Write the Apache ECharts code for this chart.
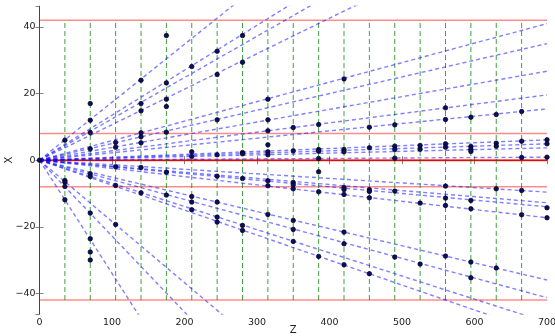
<!DOCTYPE html>
<html>
<head>
<meta charset="utf-8">
<script src="https://cdn.jsdelivr.net/npm/echarts@6/dist/echarts.min.js"></script>
<style>
html,body{margin:0;padding:0;background:#fff;}
#chart{width:555px;height:336px;}
</style>
</head>
<body>
<div id="chart"></div>
<script>
// Detector planes (Z positions of green dashed lines)
const planeZ = [35,70,105,140,175,210,245,280,315,350,385,420,455,490,525,560,595,630,665];
// Red horizontal boundaries (X)
const redLevels = [42, 8, 0, -8, -42];
// Straight tracks from origin, described by X value at Z = 700
const trackEndX = [121.8, 94.5, 86.8, 74.6, 41, 35, 26.7, 19.6, 15.4, 6.1, 4.9, 3.7, 0.9,
                   -9.6, -12.8, -14.0, -17.3, -36, -41.3, -48.7, -52.5, -128.8, -159.6, -238];
const trackEndZ = 700;
// Hits [Z, X]
const hits = [
  [0,0],
  [35,6],[35,-6.1],[35,-6.6],[35,-7.9],[35,-11.9],
  [70,17],[70,12],[70,8.3],[70,3.4],[70,-4.1],[70,-4.9],[70,-15.9],[70,-23.6],[70,-27.6],[70,-30],
  [105,5.3],[105,3.9],[105,-2.0],[105,-7.6],[105,-19.3],
  [140,24],[140,17],[140,14.8],[140,8.2],[140,7],[140,5.2],[140,-2.2],[140,-9.8],
  [175,37.4],[175,23.2],[175,18.3],[175,16.1],[175,8.4],[175,-3.6],[175,-10.5],
  [210,28.1],[210,2.5],[210,1.1],[210,-10.9],[210,-12.6],[210,-14.9],
  [245,32.7],[245,25.7],[245,12.1],[245,1.6],[245,-4.8],[245,-12.6],[245,-17.1],[245,-18.6],
  [280,37.4],[280,29.4],[280,2.3],[280,1.9],[280,-5.5],[280,-19.6],[280,-21.1],
  [315,18.3],[315,12.1],[315,8.8],[315,4.6],[315,2.5],[315,1.6],[315,-6.2],[315,-7.7],[315,-16.3],
  [350,9.8],[350,2.8],[350,-6.7],[350,-7.4],[350,-8.6],[350,-18.1],[350,-20.8],[350,-24.4],
  [385,10.7],[385,3.2],[385,2.7],[385,0.5],[385,-3.5],[385,-9.5],[385,-28.9],
  [420,24.4],[420,3.2],[420,2.5],[420,-8.2],[420,-8.8],[420,-10.3],[420,-21.6],[420,-25.1],[420,-31.4],
  [455,9.9],[455,3.7],[455,-8.9],[455,-9.4],[455,-11.3],[455,-34.1],
  [490,10.6],[490,4.2],[490,3.2],[490,0.6],[490,-9.3],[490,-29.1],
  [525,4.4],[525,3.3],[525,-12.9],[525,-31.2],
  [560,15.7],[560,12.2],[560,4.9],[560,3.9],[560,-7.8],[560,-11.4],[560,-13.6],[560,-28.8],
  [595,12.9],[595,4.1],[595,3.3],[595,2.6],[595,-12.1],[595,-14.6],[595,-30.6],[595,-35.3],
  [630,13.7],[630,5.1],[630,4.2],[630,-8.6],[630,-32.4],
  [665,14.6],[665,5.7],[665,0.8],[665,-9.1],[665,-16.4],
  [700,6.1],[700,4.9],[700,0.9],[700,-14.3],[700,-17.3]
];
const zRange = [0, 700];
const xRange = [-46.2, 46.2];

const fmtNum = v => (v < 0 ? '\u2212' + Math.abs(v) : String(v));
const labelStyle = {color:'#222', fontSize:9.5, fontFamily:'DejaVu Sans'};
const axisLine = {show:true, lineStyle:{color:'#444', width:1}};
const tickIn = {show:true, inside:true, length:4, lineStyle:{color:'#666', width:0.8}};

const series = [];
// red boundaries
redLevels.forEach(lv => {
  series.push({
    type:'line', data:[[zRange[0], lv],[zRange[1], lv]], symbol:'none', silent:true,
    lineStyle: lv === 0 ? {color:'rgba(255,0,0,0.8)', width:2} : {color:'rgba(255,0,0,0.45)', width:1.6},
    z:1
  });
});
// green planes
const planeTop = redLevels[0], planeBottom = redLevels[redLevels.length-1];
planeZ.forEach(pz => {
  series.push({
    type:'line', data:[[pz, planeBottom],[pz, planeTop]], symbol:'none', silent:true,
    lineStyle:{color:'rgba(0,128,0,0.75)', width:1, type:[5,3]}, z:2
  });
});
// tracks
trackEndX.forEach(ex => {
  series.push({
    type:'line', data:[[0,0],[trackEndZ, ex]], symbol:'none', silent:true, clip:true,
    lineStyle:{color:'rgba(0,0,255,0.5)', width:1.4, type:[4,3]}, z:3
  });
});
// hits
series.push({
  type:'scatter', data:hits, symbol:'circle', symbolSize:4.5,
  itemStyle:{color:'#0b0b70', borderColor:'#000', borderWidth:0.7, opacity:1}, z:5
});

const chart = echarts.init(document.getElementById('chart'), null, {renderer:'canvas'});
chart.setOption({
  animation:false,
  backgroundColor:'#fff',
  grid:{left:39.5, right:8, top:6.3, bottom:22, containLabel:false, outerBoundsMode:'none'},
  xAxis:[{
    type:'value', min:zRange[0], max:zRange[1], interval:100, position:'bottom',
    name:'Z', nameLocation:'middle', nameGap:11, nameMoveOverlap:false,
    nameTextStyle:{color:'#222', fontSize:10, fontFamily:'DejaVu Sans'},
    axisLine:axisLine, axisTick:tickIn, splitLine:{show:false},
    axisLabel:Object.assign({margin:4, formatter:fmtNum}, labelStyle)
  },{
    type:'value', min:zRange[0], max:zRange[1], interval:100, position:'top',
    axisLine:axisLine, axisTick:tickIn, splitLine:{show:false}, axisLabel:{show:false}
  }],
  yAxis:[{
    type:'value', min:xRange[0], max:xRange[1], position:'left',
    name:'X', nameLocation:'middle', nameGap:25, nameRotate:90, nameMoveOverlap:false,
    nameTextStyle:{color:'#222', fontSize:10, fontFamily:'DejaVu Sans'},
    axisLine:axisLine, axisTick:tickIn, splitLine:{show:false},
    axisLabel:Object.assign({margin:4, formatter:fmtNum, showMinLabel:false, showMaxLabel:false}, labelStyle)
  },{
    type:'value', min:xRange[0], max:xRange[1], position:'right',
    axisLine:axisLine, axisTick:tickIn, splitLine:{show:false}, axisLabel:{show:false}
  }],
  series: series
});
</script>
</body>
</html>
